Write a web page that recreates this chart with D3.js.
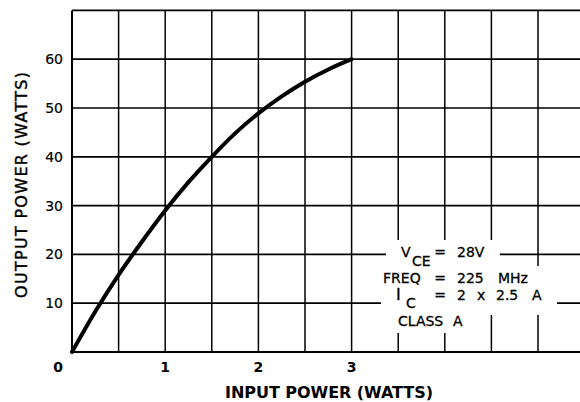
<!DOCTYPE html>
<html>
<head>
<meta charset="utf-8">
<script src="https://cdn.jsdelivr.net/npm/d3@7"></script>
<style>
  body { margin: 0; background: #fff; }
  text { font-family: "DejaVu Sans", sans-serif; fill: #000; }
</style>
</head>
<body>
<div id="chart"></div>
<script>
(function() {

    var width = 580;
    var height = 402;

    // curve: input power (W) -> output power (W)
    var inputPower  = [0, 0.25, 0.5, 0.75, 1, 1.25, 1.5, 1.75, 2, 2.25, 2.5, 2.75, 3];
    var outputPower = [0, 8.3, 15.8, 22.6, 29, 34.8, 40, 44.8, 48.9, 52.4, 55.4, 57.9, 60];

    var xTicks = [1, 2, 3];
    var yTicks = [10, 20, 30, 40, 50, 60];
    var xGrid = [0.5, 1, 1.5, 2, 2.5, 3, 3.5, 4, 4.5, 5];
    var yGrid = [10, 20, 30, 40, 50, 60, 70];

    var svg = d3.select("#chart")
        .append("svg")
        .attr("width", width)
        .attr("height", height);

    var x = d3.scaleLinear().domain([0, 5.5]).range([72, 72 + 93.2 * 5.5]);
    var y = d3.scaleLinear().domain([0, 70]).range([352, 352 - 4.88 * 70]);

    // grid
    svg.selectAll(".vgrid")
        .data(xGrid)
        .enter().append("line")
        .attr("x1", d => x(d)).attr("x2", d => x(d))
        .attr("y1", y(0)).attr("y2", y(70))
        .attr("stroke", "#000")
        .attr("stroke-width", 1.5);

    svg.selectAll(".hgrid")
        .data(yGrid)
        .enter().append("line")
        .attr("x1", x(0)).attr("x2", width)
        .attr("y1", d => y(d)).attr("y2", d => y(d))
        .attr("stroke", "#000")
        .attr("stroke-width", 1.7);

    // legend block (white patches behind each line of text)
    var maskG = svg.append("g");
    var legend = svg.append("g").attr("font-size", 14)
        .attr("stroke", "#000").attr("stroke-width", 0.3);

    function addLine(parts) {
        var g = legend.append("g");
        parts.forEach(function(p) {
            g.append("text")
                .attr("x", p[1])
                .attr("y", p[2])
                .attr("text-anchor", p[3] || "start")
                .attr("font-family", p[4] || null)
                .attr("font-size", p[5] || null)
                .text(p[0]);
        });
        return g;
    }

    var lines = [];
    lines.push(addLine([["V", 401, 257], ["CE", 412, 266], ["=", 440, 257, "middle"], ["28V", 457, 257]]));
    lines.push(addLine([["FREQ", 383, 283], ["=", 440, 283, "middle"], ["225", 457, 283], ["MHz", 498, 283]]));
    lines.push(addLine([["I", 396, 300, "start", "Liberation Serif", 16], ["C", 406, 308], ["=", 440, 300, "middle"], ["2", 457, 300], ["x", 477, 300], ["2.5", 496, 300], ["A", 532, 300]]));
    lines.push(addLine([["CLASS", 398, 326], ["A", 453, 326]]));

    lines.forEach(function(g) {
        var b = g.node().getBBox();
        maskG.append("rect")
            .attr("x", b.x - 15)
            .attr("y", b.y - 4)
            .attr("width", b.width + 30)
            .attr("height", b.height + 8)
            .attr("fill", "#fff");
    });

    // axes frame
    svg.append("line")
        .attr("x1", x(0)).attr("x2", x(0))
        .attr("y1", y(0)).attr("y2", y(70))
        .attr("stroke", "#000").attr("stroke-width", 2);
    svg.append("line")
        .attr("x1", x(0)).attr("x2", width)
        .attr("y1", y(0)).attr("y2", y(0))
        .attr("stroke", "#000").attr("stroke-width", 2);

    // curve
    var pts = inputPower.map((d, i) => [d, outputPower[i]]);
    svg.append("path")
        .datum(pts)
        .attr("fill", "none")
        .attr("stroke", "#000")
        .attr("stroke-width", 4)
        .attr("stroke-linecap", "round")
        .attr("d", d3.line()
            .x(d => x(d[0]))
            .y(d => y(d[1]))
            .curve(d3.curveMonotoneX));

    // tick labels
    svg.selectAll(".ylab")
        .data(yTicks)
        .enter().append("text")
        .attr("x", x(0) - 9)
        .attr("y", d => y(d) + 5)
        .attr("text-anchor", "end")
        .attr("font-size", 14)
        .attr("stroke", "#000").attr("stroke-width", 0.2)
        .text(d => d);

    svg.selectAll(".xlab")
        .data(xTicks)
        .enter().append("text")
        .attr("x", d => x(d))
        .attr("y", 372)
        .attr("text-anchor", "middle")
        .attr("font-size", 14)
        .attr("font-weight", "bold")
        .text(d => d);

    svg.append("text")
        .attr("x", x(0) - 14)
        .attr("y", 372)
        .attr("text-anchor", "middle")
        .attr("font-size", 14)
        .attr("font-weight", "bold")
        .text("0");

    // axis titles
    svg.append("text")
        .attr("x", 225)
        .attr("y", 398)
        .attr("font-size", 16)
        .attr("font-weight", "bold")
        .attr("textLength", 208)
        .attr("lengthAdjust", "spacing")
        .text("INPUT POWER (WATTS)");

    svg.append("text")
        .attr("transform", "translate(27,298) rotate(-90)")
        .attr("font-size", 16)
        .attr("stroke", "#000").attr("stroke-width", 0.4)
        .attr("textLength", 226)
        .attr("lengthAdjust", "spacing")
        .text("OUTPUT POWER (WATTS)");

})();
</script>
</body>
</html>
